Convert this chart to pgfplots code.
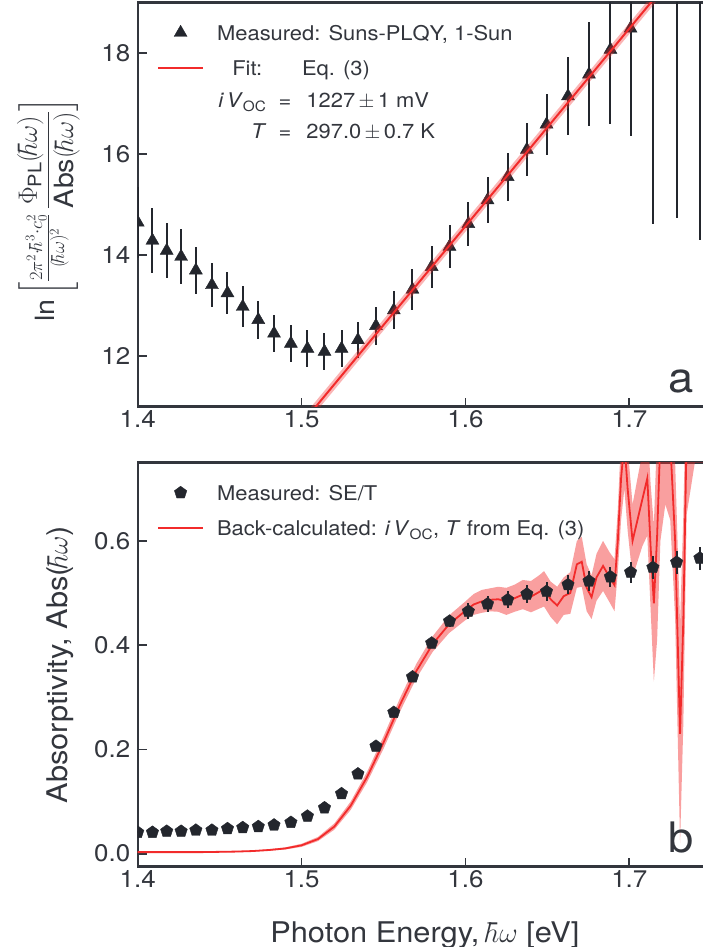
\RequirePackage{fix-cm}
\documentclass[border=0pt]{standalone}
\usepackage{amsmath}
\usepackage{fontspec}
\setmainfont{TeX Gyre Heros}[FakeStretch=1.08]
\usepackage{pgfplots}
\usepackage{pgfplotstable}
\pgfplotsset{compat=1.18}
\usepgfplotslibrary{fillbetween}

\definecolor{ink}{HTML}{33363D}
\definecolor{mk}{HTML}{23262D}
\definecolor{fitred}{HTML}{F22B2B}

% Suns-PLQY points: x, y, error
\pgfplotstableread{
x y e
1.4000 14.65 0.70
1.4090 14.29 0.65
1.4177 14.09 0.55
1.4265 13.97 0.54
1.4355 13.70 0.47
1.4453 13.41 0.44
1.4548 13.25 0.41
1.4641 12.98 0.41
1.4736 12.72 0.38
1.4832 12.45 0.37
1.4935 12.25 0.36
1.5036 12.15 0.36
1.5140 12.09 0.37
1.5244 12.15 0.36
1.5344 12.32 0.36
1.5454 12.60 0.37
1.5563 12.91 0.38
1.5677 13.32 0.40
1.5794 13.77 0.41
1.5903 14.17 0.43
1.6018 14.62 0.44
1.6135 15.09 0.46
1.6258 15.55 0.47
1.6375 16.09 0.52
1.6495 16.59 0.60
1.6626 17.15 0.77
1.6754 17.58 1.03
1.6885 18.07 1.48
1.7008 18.49 2.13
1.7144 19.60 4.98
1.7289 19.90 5.16
1.7431 20.20 5.90
}\plqy

% SE/T absorptivity points
\pgfplotstableread{
x y e
1.4000 0.041 0.002
1.4090 0.041 0.002
1.4177 0.043 0.002
1.4265 0.043 0.002
1.4355 0.045 0.002
1.4453 0.045 0.002
1.4548 0.048 0.002
1.4641 0.050 0.002
1.4736 0.052 0.002
1.4832 0.055 0.002
1.4935 0.060 0.002
1.5036 0.072 0.002
1.5140 0.088 0.002
1.5244 0.115 0.002
1.5344 0.153 0.002
1.5454 0.206 0.004
1.5563 0.271 0.005
1.5677 0.339 0.006
1.5794 0.404 0.010
1.5903 0.446 0.012
1.6018 0.465 0.015
1.6135 0.479 0.015
1.6258 0.487 0.016
1.6375 0.498 0.018
1.6495 0.503 0.018
1.6626 0.516 0.018
1.6754 0.523 0.019
1.6885 0.531 0.019
1.7008 0.540 0.020
1.7144 0.549 0.022
1.7289 0.559 0.022
1.7431 0.567 0.022
}\se

% back-calculated absorptivity with band
\pgfplotstableread{
x y lo hi
1.400 0.003 0.002 0.004
1.420 0.003 0.002 0.004
1.440 0.003 0.002 0.004
1.460 0.004 0.003 0.005
1.470 0.005 0.004 0.006
1.480 0.007 0.0055 0.0085
1.490 0.010 0.008 0.012
1.500 0.016 0.013 0.019
1.510 0.028 0.024 0.032
1.520 0.052 0.046 0.058
1.530 0.092 0.084 0.100
1.540 0.147 0.137 0.157
1.550 0.213 0.201 0.225
1.560 0.285 0.272 0.298
1.570 0.350 0.336 0.364
1.580 0.402 0.387 0.417
1.590 0.440 0.423 0.457
1.600 0.466 0.448 0.484
1.605 0.478 0.458 0.498
1.610 0.484 0.462 0.506
1.615 0.487 0.465 0.509
1.620 0.488 0.464 0.512
1.625 0.484 0.458 0.510
1.630 0.490 0.464 0.516
1.635 0.497 0.469 0.525
1.640 0.493 0.463 0.523
1.645 0.502 0.470 0.534
1.648 0.508 0.474 0.542
1.652 0.488 0.454 0.522
1.656 0.476 0.440 0.512
1.660 0.494 0.458 0.530
1.664 0.500 0.460 0.540
1.668 0.555 0.510 0.600
1.671 0.560 0.512 0.608
1.674 0.510 0.465 0.555
1.677 0.492 0.450 0.534
1.680 0.530 0.485 0.575
1.684 0.552 0.504 0.600
1.688 0.530 0.482 0.578
1.691 0.515 0.465 0.565
1.693 0.600 0.540 0.660
1.695 0.720 0.640 0.800
1.697 0.790 0.700 0.880
1.699 0.700 0.620 0.780
1.702 0.600 0.530 0.670
1.705 0.640 0.560 0.720
1.708 0.680 0.590 0.770
1.711 0.720 0.610 0.830
1.713 0.590 0.470 0.710
1.715 0.480 0.330 0.630
1.717 0.610 0.410 0.810
1.719 0.800 0.600 1.000
1.722 0.820 0.670 0.970
1.725 0.790 0.640 0.940
1.728 0.600 0.450 0.750
1.731 0.230 0.020 0.440
1.733 0.450 0.250 0.650
1.735 0.800 0.650 0.950
1.740 0.850 0.750 0.950
1.745 0.850 0.750 0.950
}\absc

\newcommand{\legfont}{\fontsize{20.3}{24}\selectfont}
\newcommand{\ls}{\rule[-5pt]{0pt}{22pt}}

\begin{document}
\begin{tikzpicture}[x=1pt,y=1pt]
\pgfplotsset{
  every axis/.append style={
    scale only axis,
    width=565.3pt, height=404pt,
    xmin=1.4, xmax=1.745,
    axis x line*=box, axis y line*=left,
    xtick pos=left,
    tick align=inside,
    major tick length=9pt,
    clip marker paths=true,
    axis line style={line width=2.4pt, ink, line cap=rect},
    tick style={line width=1.8pt, ink},
    tick label style={font=\fontsize{24}{28}\selectfont, text=ink},
    yticklabel style={xshift=-4pt},
    label style={font=\fontsize{28.5}{32}\selectfont, text=ink, inner sep=0pt},
    xtick={1.4,1.5,1.6,1.7},
    xticklabels={1.4,1.5,1.6,1.7},
    legend style={draw=none, fill=none, font=\legfont, text=ink,
      anchor=north west, row sep=17pt, column sep=13pt,
      inner sep=0pt, nodes={inner sep=0pt}},
    legend cell align=left,
  },
  meas/.style={mk, only marks, mark size=#1,
    error bars/y dir=both, error bars/y explicit, error bars/error mark=none,
    error bars/error bar style={line width=2pt, mk}},
  markleg/.style={legend image code/.code={\draw[##1, only marks] plot coordinates {(22.5pt,0pt)};}},
  lineleg/.style={legend image code/.code={\draw[##1] (0pt,0pt) -- (45pt,0pt);}},
}

% ---- panel a ----
\begin{axis}[
  at={(137.7pt,540.3pt)}, anchor=south west,
  ymin=11, ymax=19,
  ytick={12,14,16,18}, yticklabels={12,14,16,18},
  ylabel={$\displaystyle \text{ln}\left[\tfrac{2\pi^2\cdot\hbar^3\cdot c_0^2}{(\hbar\omega)^2}\,\frac{\Phi_{\text{PL}}(\hbar\omega)}{\text{Abs}(\hbar\omega)}\right]$},
  ylabel style={at={(axis description cs:-0.158,0.487)}, anchor=center, font=\fontsize{26.5}{31}\selectfont},
  legend style={at={(axis description cs:0.034,0.949)}},
]
\addplot[meas=7.5pt, mark=triangle*, markleg] table[x=x, y=y, y error=e] {\plqy};
\addlegendentry{\ls Measured: Suns-PLQY, 1-Sun}
\addplot[fitred, opacity=0.35, line width=7pt, forget plot] coordinates {(1.50,10.66) (1.72,19.27)};
\addplot[fitred, line width=2pt, lineleg] coordinates {(1.50,10.66) (1.72,19.27)};
\addlegendentry{\ls\makebox[45pt][r]{Fit:}\hspace{40pt}Eq. (3)}
\node[anchor=base west, font=\legfont, text=ink] at (axis description cs:0.142,0.7406)
  {\makebox[45pt][r]{\textit{i\,V}$_{\text{OC}}$}\makebox[37pt][c]{=}\hspace{3pt}1227\,$\pm$\,1 mV};
\node[anchor=base west, font=\legfont, text=ink] at (axis description cs:0.142,0.6639)
  {\makebox[45pt][r]{\textit{T}}\makebox[37pt][c]{=}\hspace{3pt}297.0\,$\pm$\,0.7 K};
\node[anchor=base, font=\fontsize{42}{48}\selectfont, text=ink] at (axis description cs:0.961,0.034) {a};
\end{axis}

% ---- panel b ----
\begin{axis}[
  at={(137.7pt,80.3pt)}, anchor=south west,
  ymin=-0.025, ymax=0.75,
  ytick={0,0.2,0.4,0.6}, yticklabels={0.0,0.2,0.4,0.6},
  xlabel={Photon Energy, $\hbar\omega$ [eV]},
  xlabel style={at={(axis description cs:0.508,-0.169)}, anchor=center},
  ylabel={Absorptivity, Abs($\hbar\omega$)},
  ylabel style={at={(axis description cs:-0.1375,0.5)}, anchor=center},
  legend style={at={(axis description cs:0.034,0.949)}},
]
\addplot[draw=none, name path=U, forget plot] table[x=x, y=hi] {\absc};
\addplot[draw=none, name path=L, forget plot] table[x=x, y=lo] {\absc};
\addplot[fitred, opacity=0.45, forget plot] fill between[of=U and L];
\addplot[fitred, line width=1.8pt, forget plot] table[x=x, y=y] {\absc};
\addplot[meas=6.5pt, mark=pentagon*, markleg] table[x=x, y=y, y error=e] {\se};
\addlegendentry{\ls Measured: SE/T}
\addlegendimage{fitred, line width=2pt, lineleg}
\addlegendentry{\ls Back-calculated: \textit{i\,V}$_{\text{OC}}$, \textit{T} from Eq. (3)}
\node[anchor=base, font=\fontsize{42}{48}\selectfont, text=ink] at (axis description cs:0.961,0.034) {b};
\end{axis}

\pgfresetboundingbox
\path[use as bounding box] (0,0) rectangle (703,947);
\end{tikzpicture}
\end{document}
